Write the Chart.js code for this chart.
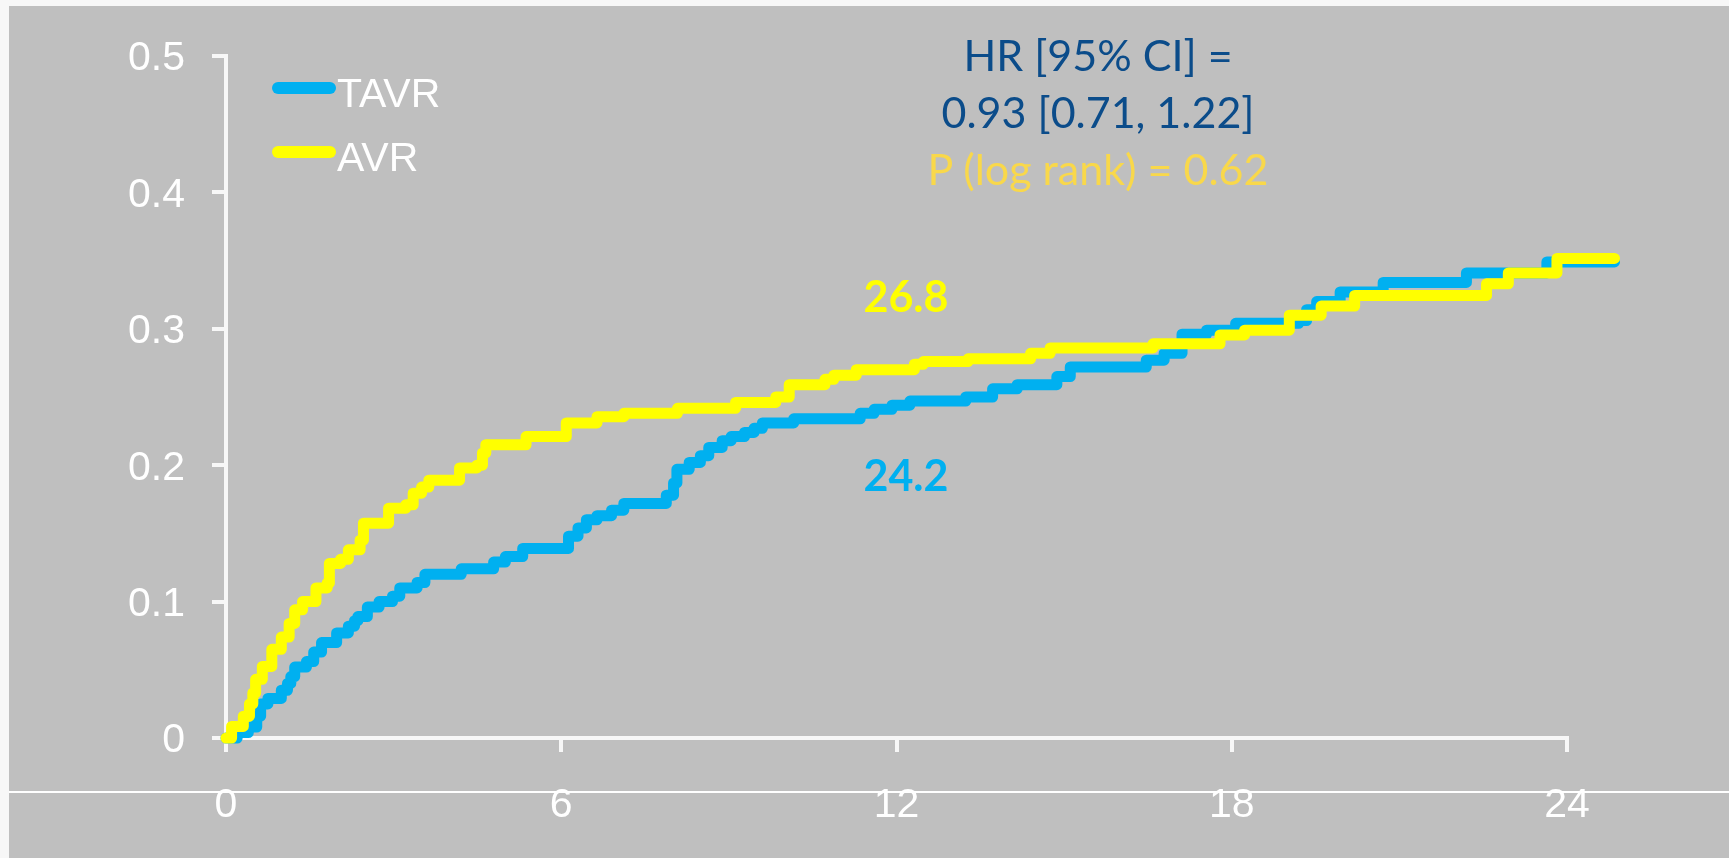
<!DOCTYPE html>
<html>
<head>
<meta charset="utf-8">
<script src="https://cdn.jsdelivr.net/npm/chart.js@4.4.1/dist/chart.umd.min.js"></script>
<style>
  body { margin: 0; background: #f7f7f7; }
  #page { position: relative; width: 1729px; height: 858px; overflow: hidden; }
  #panel { position: absolute; left: 9px; top: 6px; right: 0; bottom: 0; background: #bfbfbf; }
  #rule { position: absolute; left: 9px; right: 0; top: 791px; height: 2px; background: #fff; }
  #chartBox { position: absolute; left: 0; top: 0; width: 1729px; height: 858px; }
  .key { position: absolute; left: 272px; width: 64px; height: 12px; border-radius: 6px; }
  .keyText { position: absolute; left: 337px; font: 41px 'Liberation Sans', Arial, sans-serif; line-height: 41px; color: #fff; }
  #stats { position: absolute; left: 848px; top: 26px; width: 500px; text-align: center; font: 43px Lato, sans-serif; line-height: 57px; }
  .num { position: absolute; left: 806px; width: 200px; text-align: center; font: bold 43px Lato, sans-serif; line-height: 43px; }
</style>
</head>
<body>
<div id="page">
  <div id="panel"></div>
  <div id="rule"></div>
  <div id="chartBox"><canvas id="chart"></canvas></div>

  <div class="key" style="top:82px;background:#00b0f0"></div>
  <div class="keyText" style="top:73px">TAVR</div>
  <div class="key" style="top:146px;background:#ffff00"></div>
  <div class="keyText" style="top:137px">AVR</div>

  <div id="stats">
    <div style="color:#0b4c8a">HR [95% CI] =</div>
    <div style="color:#0b4c8a">0.93 [0.71, 1.22]</div>
    <div style="color:#f9d84a">P (log rank) = 0.62</div>
  </div>
  <div class="num" style="top:274px;color:#ffff00">26.8</div>
  <div class="num" style="top:453px;color:#00b0f0">24.2</div>
</div>

<script>
// months from randomisation, cumulative event rate (step up at each month listed)
const tavrMonths = [0, 0.2, 0.4, 0.55, 0.62, 0.75, 0.99, 1.1, 1.16, 1.23, 1.44, 1.57, 1.71, 1.98,
  2.19, 2.3, 2.36, 2.53, 2.74, 2.98, 3.11, 3.42, 3.56, 4.21, 4.79, 5.0, 5.31, 6.13, 6.3, 6.45,
  6.64, 6.9, 7.12, 7.88, 8.01, 8.07, 8.29, 8.49, 8.64, 8.88, 9.04, 9.28, 9.45, 9.6, 10.16,
  11.35, 11.6, 11.92, 12.24, 13.24, 13.72, 14.16, 14.87, 15.11, 16.47, 16.79, 17.11, 17.55,
  18.07, 19.2, 19.34, 19.52, 19.94, 20.71, 22.2, 23.64, 24.85];
const tavrRisk = [0, 0.004, 0.008, 0.016, 0.025, 0.029, 0.035, 0.040, 0.045, 0.052, 0.056, 0.063,
  0.070, 0.077, 0.082, 0.086, 0.089, 0.096, 0.100, 0.104, 0.110, 0.114, 0.120, 0.124, 0.129,
  0.133, 0.139, 0.148, 0.154, 0.160, 0.163, 0.167, 0.172, 0.178, 0.187, 0.197, 0.202, 0.207,
  0.213, 0.218, 0.221, 0.224, 0.227, 0.231, 0.234, 0.238, 0.241, 0.244, 0.247, 0.250, 0.256,
  0.259, 0.265, 0.272, 0.277, 0.282, 0.296, 0.299, 0.304, 0.306, 0.314, 0.320, 0.327, 0.334,
  0.341, 0.349, 0.349];

const avrMonths = [0, 0.1, 0.31, 0.42, 0.48, 0.53, 0.65, 0.82, 0.99, 1.13, 1.23, 1.37, 1.61, 1.81,
  1.85, 2.05, 2.19, 2.4, 2.46, 2.91, 3.22, 3.35, 3.5, 3.63, 4.18, 4.49, 4.59, 4.65, 5.37, 6.09,
  6.64, 7.12, 8.08, 9.12, 9.84, 10.08, 10.72, 10.88, 11.28, 12.32, 12.48, 13.28, 14.4, 14.75,
  16.59, 17.79, 18.23, 19.03, 19.6, 20.2, 22.56, 22.95, 23.82, 24.85];
const avrRisk = [0, 0.0085, 0.016, 0.025, 0.033, 0.043, 0.0525, 0.065, 0.074, 0.084, 0.094, 0.100,
  0.110, 0.1135, 0.128, 0.131, 0.138, 0.145, 0.1575, 0.1685, 0.171, 0.1795, 0.184, 0.189, 0.198,
  0.200, 0.209, 0.215, 0.221, 0.231, 0.2356, 0.238, 0.2417, 0.246, 0.250, 0.259, 0.263, 0.266,
  0.270, 0.274, 0.276, 0.278, 0.282, 0.286, 0.289, 0.2955, 0.299, 0.310, 0.3167, 0.3245, 0.333,
  0.341, 0.3516, 0.3516];

const xTicks = [0, 6, 12, 18, 24];
const xTickLabels = ['0', '6', '12', '18', '24'];
const yTicks = [0, 0.1, 0.2, 0.3, 0.4, 0.5];
const yTickLabels = ['0', '0.1', '0.2', '0.3', '0.4', '0.5'];

const toPoints = (xs, ys) => xs.map((x, i) => ({ x: x, y: ys[i] }));

const lineStyle = {
  borderWidth: 11,
  stepped: 'before',
  pointRadius: 0,
  fill: false,
  clip: false,
  borderCapStyle: 'round',
  borderJoinStyle: 'round'
};

const axisGrid = {
  drawOnChartArea: false,
  drawTicks: true,
  tickLength: 14,
  color: '#f7f7f7',
  lineWidth: 4
};

Chart.defaults.font.family = "'Liberation Sans', Arial, sans-serif";

new Chart(document.getElementById('chart'), {
  type: 'line',
  data: {
    datasets: [
      { label: 'TAVR', data: toPoints(tavrMonths, tavrRisk), borderColor: '#00b0f0', order: 1, ...lineStyle },
      { label: 'AVR', data: toPoints(avrMonths, avrRisk), borderColor: '#ffff00', order: 0, ...lineStyle }
    ]
  },
  options: {
    responsive: true,
    maintainAspectRatio: false,
    animation: false,
    layout: { padding: { left: 0, top: 56, right: 162, bottom: 0 } },
    plugins: {
      legend: { display: false },
      tooltip: { enabled: false }
    },
    scales: {
      x: {
        type: 'linear',
        min: 0,
        max: 24,
        afterBuildTicks: (scale) => { scale.ticks = xTicks.map(v => ({ value: v })); },
        afterFit: (scale) => { scale.height = 120; },
        grid: axisGrid,
        border: { color: '#f7f7f7', width: 4 },
        ticks: {
          color: '#ffffff',
          font: { size: 41 },
          padding: 29,
          maxRotation: 0,
          autoSkip: false,
          callback: (v, i) => xTickLabels[i]
        }
      },
      y: {
        type: 'linear',
        min: 0,
        max: 0.5,
        afterBuildTicks: (scale) => { scale.ticks = yTicks.map(v => ({ value: v })); },
        afterFit: (scale) => { scale.width = 226; },
        grid: axisGrid,
        border: { color: '#f7f7f7', width: 4 },
        ticks: {
          color: '#ffffff',
          font: { size: 41 },
          padding: 27,
          labelOffset: 3,
          autoSkip: false,
          callback: (v, i) => yTickLabels[i]
        }
      }
    }
  }
});
</script>
</body>
</html>
